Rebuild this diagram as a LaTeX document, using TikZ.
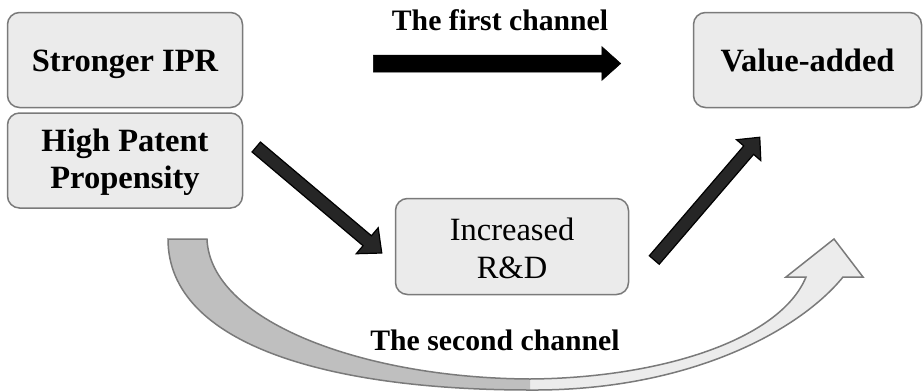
\documentclass[tikz,border=0pt]{standalone}
\usepackage{fontspec}
\setmainfont{Liberation Serif}
\usetikzlibrary{calc}
\definecolor{boxfill}{HTML}{EBEBEB}
\definecolor{boxline}{HTML}{7A7A7A}
\definecolor{bandgray}{HTML}{BFBFBF}
\definecolor{bandlight}{HTML}{ECECEC}
\definecolor{darkarrow}{HTML}{262626}
\newcommand\fatarrow[6]{%
  \path let \p1=(#1), \p2=(#2) in
    \pgfextra{\pgfmathsetmacro\fatang{atan2(\y2-\y1,\x2-\x1)}%
              \pgfmathsetmacro\fatlen{veclen(\x2-\x1,\y2-\y1)}%
              \global\let\fatang\fatang \global\let\fatlen\fatlen};
  \draw[#6, shift={(#1)}, rotate=\fatang]
    (0pt,-#3/2) -- ({\fatlen pt-#5},-#3/2) -- ({\fatlen pt-#5},-#4/2)
    -- (\fatlen pt,0pt) -- ({\fatlen pt-#5},#4/2) -- ({\fatlen pt-#5},#3/2)
    -- (0pt,#3/2) -- cycle;
}
\tikzset{
  box/.style={draw=boxline, fill=boxfill, line width=1.5pt, rounded corners=12pt,
    align=center, inner sep=0pt},
  boldbox/.style={box, font=\fontsize{32.5}{36.6}\selectfont\bfseries},
  plainbox/.style={box, font=\fontsize{32.5}{38}\selectfont},
  chan/.style={font=\fontsize{29.7}{34}\selectfont\bfseries, inner sep=0pt},
  darkfat/.style={fill=darkarrow, draw=black, line width=1.2pt, line join=miter},
  blackfat/.style={fill=black, draw=black, line width=0.5pt},
  band/.style={draw=boxline, line width=1.5pt, line join=miter}
}
\begin{document}
\begin{tikzpicture}[x=1pt,y=1pt]
\useasboundingbox (0,0) rectangle (923,-391);
% boxes
\node[boldbox, minimum width=235pt, minimum height=95pt, text height=26pt, text depth=2.6pt] (sipr) at (125,-60) {Stronger IPR};
\node[boldbox, minimum width=235pt, minimum height=95pt, text height=60pt, text depth=4.4pt] (hpp) at (125,-160.5) {High Patent\\Propensity};
\node[boldbox, minimum width=228pt, minimum height=95pt, text height=26pt, text depth=2.6pt] (va) at (807.5,-60) {Value-added};
\node[plainbox, minimum width=233pt, minimum height=96pt, text height=66pt, text depth=2.4pt] (rd) at (512,-246.5) {Increased\\R\&D};
% labels
\node[chan, anchor=base] (c1) at (500,-30) {The first channel};
\node[chan, anchor=base] (c2) at (495,-350) {The second channel};
% second channel band
\fill[bandlight] (530,-390) .. controls (690,-391) and (800,-330) .. (843,-277)
  -- (863,-277) -- (834,-239) -- (786,-277) -- (806,-277)
  .. controls (780,-340) and (660,-378) .. (530,-379) -- cycle;
\fill[bandgray] (168,-239) -- (207,-239) .. controls (210,-320) and (360,-378) .. (530,-379)
  -- (530,-390) .. controls (330,-390) and (168,-345) .. (168,-239) -- cycle;
\draw[band] (530,-390) .. controls (690,-391) and (800,-330) .. (843,-277)
  -- (863,-277) -- (834,-239) -- (786,-277) -- (806,-277)
  .. controls (780,-340) and (660,-378) .. (530,-379);
\draw[band] (530,-379) .. controls (360,-378) and (210,-320) .. (207,-239)
  -- (168,-239) .. controls (168,-345) and (330,-390) .. (530,-390);
% arrows
\coordinate (a1s) at ($(hpp.east)+(13,13.5)$);
\coordinate (a1e) at ($(rd.west)+(-13,-6.5)$);
\coordinate (a2s) at ($(rd.east)+(25,-13.5)$);
\coordinate (a2e) at ($(va.south west)+(67,-29)$);
\coordinate (a3s) at ($(sipr.east)+(130,-3.5)$);
\coordinate (a3e) at ($(va.west)+(-72,-3.5)$);
\fatarrow{a1s}{a1e}{13pt}{34pt}{19pt}{darkfat}
\fatarrow{a2s}{a2e}{13pt}{32pt}{17pt}{darkfat}
\fatarrow{a3s}{a3e}{17pt}{34pt}{19pt}{blackfat}
\end{tikzpicture}
\end{document}
